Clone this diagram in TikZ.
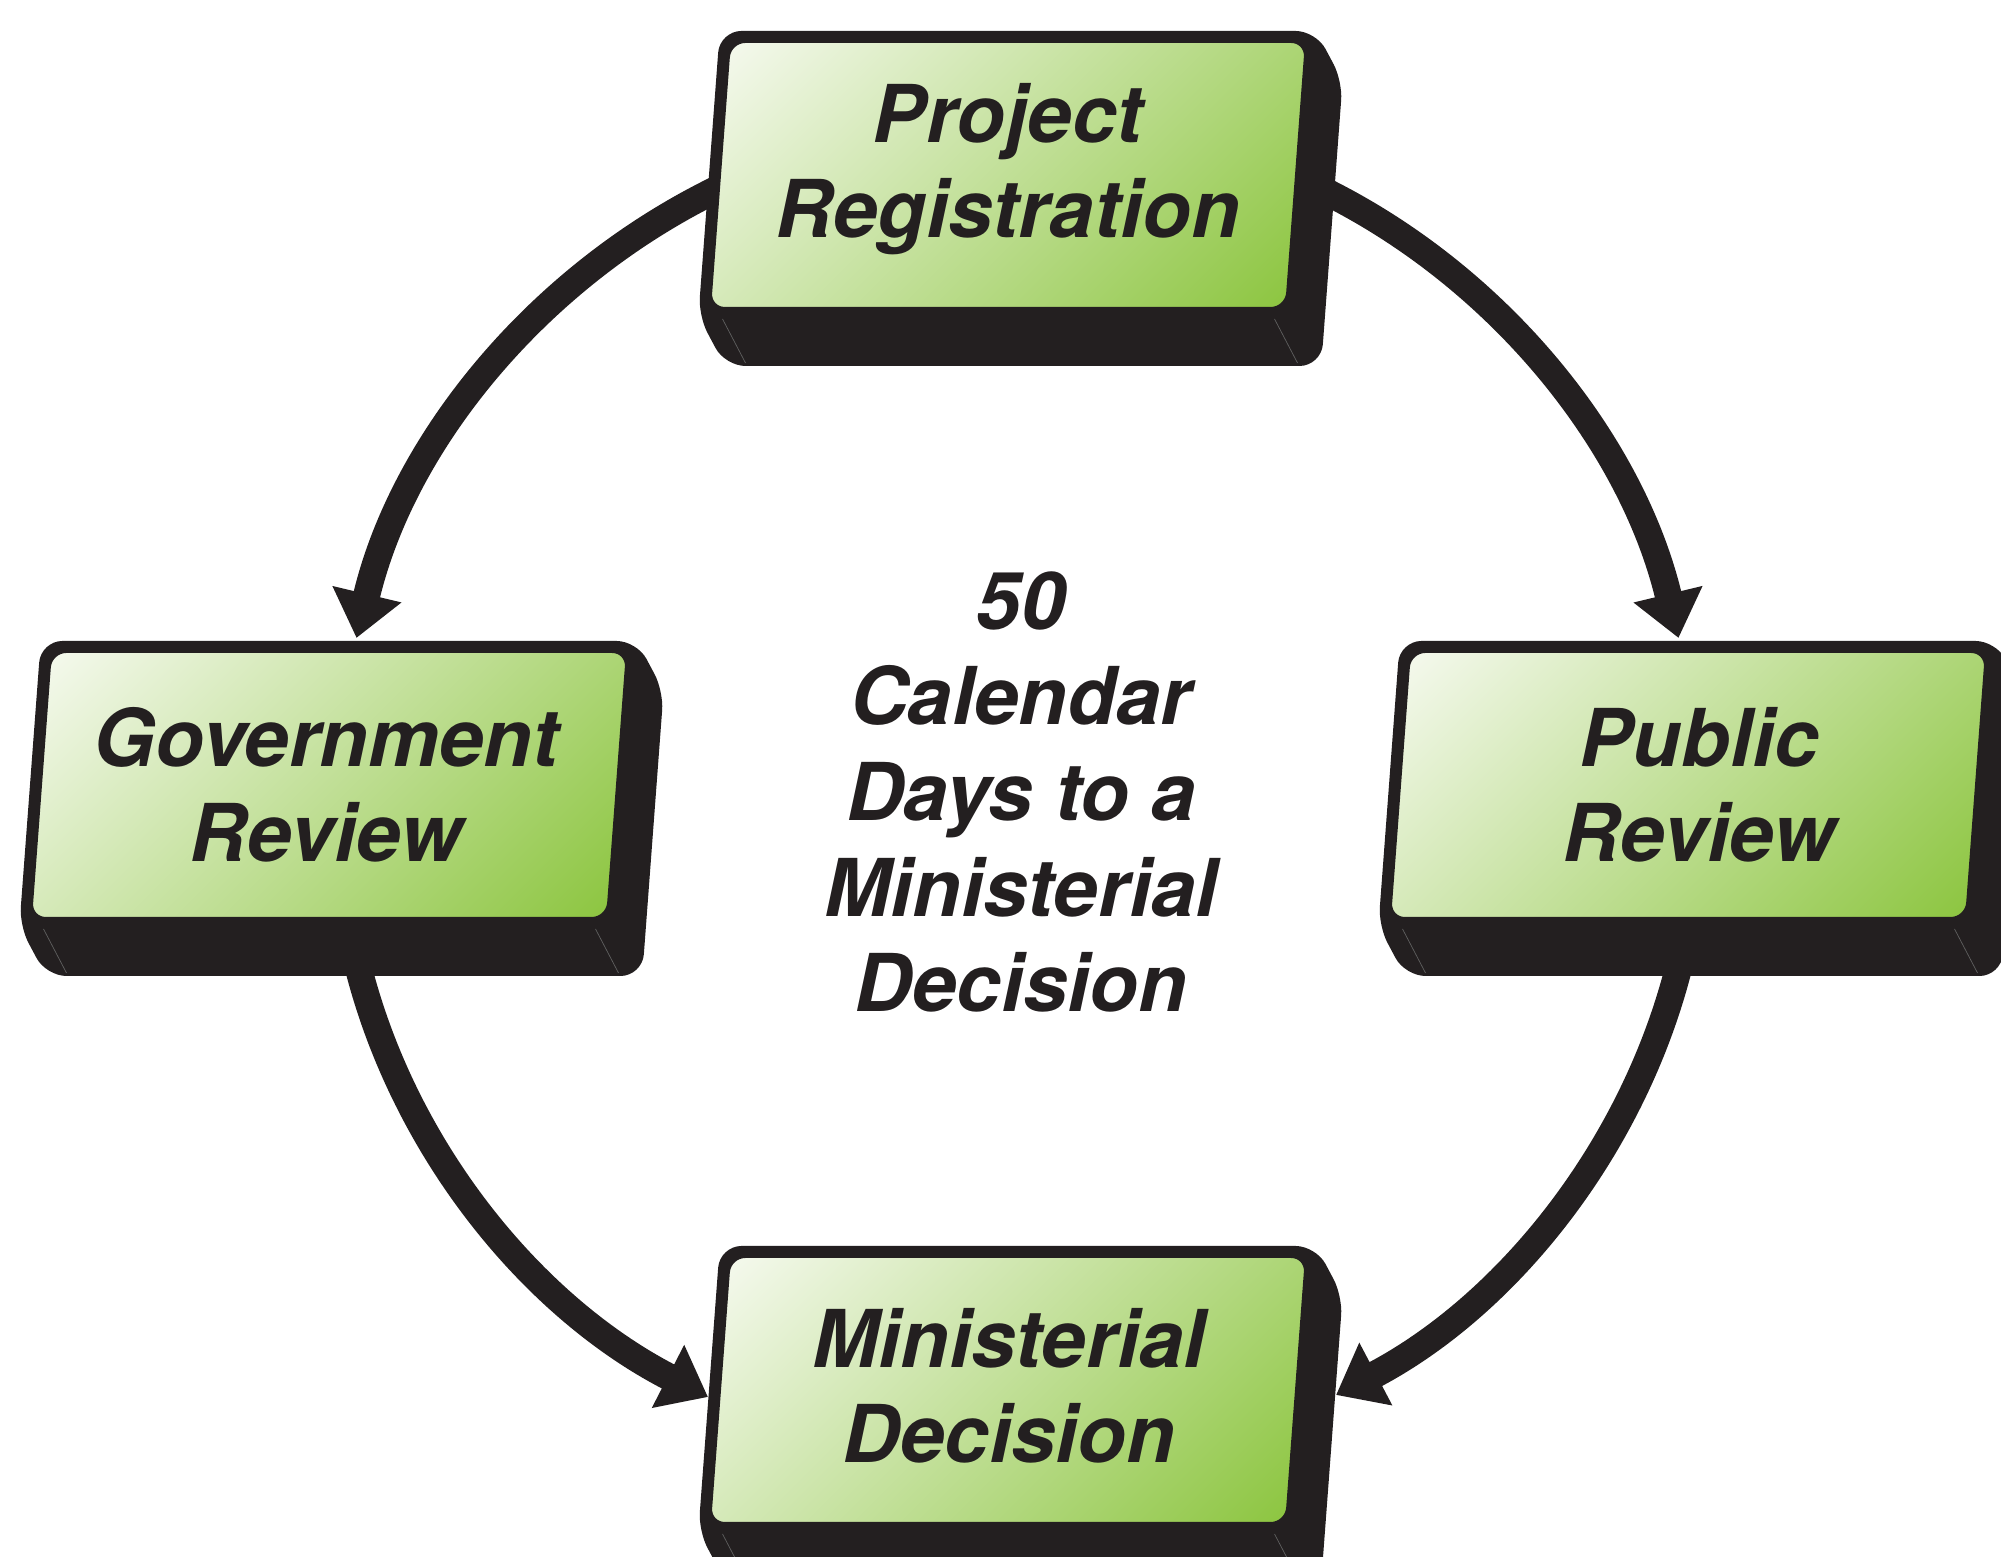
\documentclass[tikz,border=0pt]{standalone}
\usepackage{fontspec}
\setmainfont{TeX Gyre Heros}
\usepackage{xcolor}
\usepackage{tikz}
\usetikzlibrary{arrows.meta, backgrounds}
\definecolor{ink}{RGB}{35,31,32}
\definecolor{facelight}{RGB}{247,250,241}
\definecolor{facedark}{RGB}{138,196,60}
\pgfdeclareverticalshading{facegreen}{100bp}{color(0bp)=(facedark); color(15bp)=(facedark); color(85bp)=(facelight); color(100bp)=(facelight)}
\tikzstyle{slab} = [rectangle, rounded corners=0.18cm, minimum width=5.82cm, minimum height=2.72cm, xslant=0.075, draw=ink, line width=0.08cm, shade, shading=facegreen, shading angle=45]
\tikzstyle{depth} = [fill=ink, draw=ink, line width=0.08cm, rounded corners=0.18cm]
\tikzstyle{seam} = [draw=gray!75!black, line width=0.2pt]
\tikzstyle{boxtext} = [font=\bfseries\itshape\fontsize{22.7}{27.2}\selectfont, text=ink, align=center, inner sep=0pt]
\tikzstyle{flow} = [draw=ink, line width=0.27cm, -{Triangle[width=0.68cm, length=0.45cm]}, looseness=0.89]

\begin{document}
\begin{tikzpicture}
	\useasboundingbox (0,0) rectangle (20.01,15.57);
	\node (reg) [slab] at (10.08,13.82) {};
	\node (gov) [slab] at (3.29,7.72) {};
	\node (pub) [slab] at (16.88,7.72) {};
	\node (dec) [slab] at (10.08,1.67) {};
	\node (regtext) [boxtext] at (10.08,13.88) {Project\\Registration};
	\node (govtext) [boxtext] at (3.26,7.72) {Government\\Review};
	\node (pubtext) [boxtext] at (16.99,7.72) {Public\\Review};
	\node (dectext) [boxtext] at (10.09,1.71) {Ministerial\\Decision};
	\node (days) [boxtext] at (10.21,7.65) {50\\Calendar\\Days to a\\Ministerial\\Decision};
	\begin{scope}[on background layer]
		\draw[flow] ([shift={(0.15,-0.09)}]reg.west) to[out=205, in=76.6] ([shift={(0.17,0.07)}]gov.north);
		\draw[flow] ([shift={(0.07,-0.09)}]reg.east) to[out=335, in=103.5] ([shift={(-0.20,0.07)}]pub.north);
		\draw[flow] ([shift={(0.30,0.03)}]gov.south) to[out=280, in=152.8] ([shift={(-0.05,-0.07)}]dec.west);
		\draw[flow] ([shift={(0.11,0.03)}]pub.south) to[out=260, in=27.75] ([shift={(0.33,-0.05)}]dec.east);
		\foreach \b in {reg,gov,pub,dec}{
			\draw[depth] (\b.north west) -- (\b.north east) -- ([shift={(0.25,-0.47)}]\b.north east) -- ([shift={(0.25,-0.47)}]\b.south east) -- ([shift={(0.25,-0.47)}]\b.south west) -- (\b.south west) -- cycle;
			\draw[seam] ([shift={(0.2,-0.04)}]\b.south west) -- ++(0.23,-0.44);
			\draw[seam] ([shift={(-0.18,-0.04)}]\b.south east) -- ++(0.23,-0.44);
		}
	\end{scope}
\end{tikzpicture}
\end{document}
